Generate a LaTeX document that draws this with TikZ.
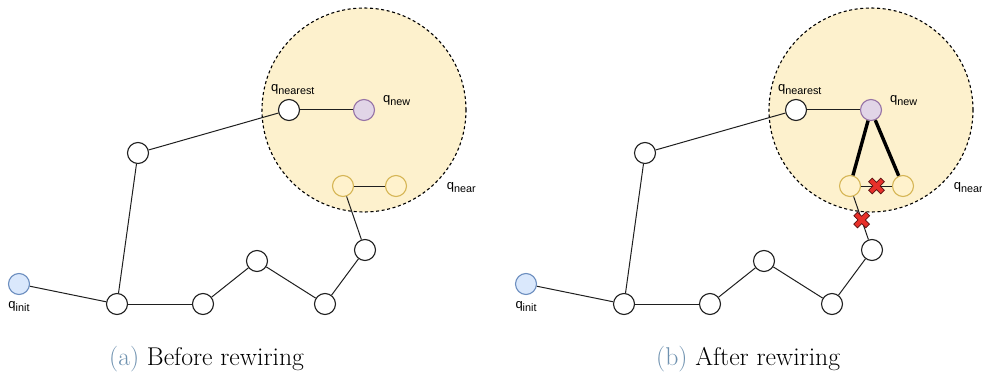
\documentclass[tikz,border=0pt]{standalone}
\usepackage{fontspec}
\newfontfamily\labelfont{Liberation Sans}
\usetikzlibrary{calc}

\definecolor{edgegray}{HTML}{1F1F1F}
\definecolor{initfill}{HTML}{DAE8FC}
\definecolor{initdraw}{HTML}{6C8EBF}
\definecolor{newfill}{HTML}{E1D5E7}
\definecolor{newdraw}{HTML}{9673A6}
\definecolor{nearfill}{HTML}{FFF2CC}
\definecolor{neardraw}{HTML}{D6B656}
\definecolor{regionfill}{HTML}{FDF1CD}
\definecolor{crossred}{HTML}{E8302A}
\definecolor{crossdark}{HTML}{5A1010}
\definecolor{capblue}{HTML}{6E91AF}

% q with a subscript, as in the node labels
\newcommand{\qsub}[1]{q\raisebox{-3.2pt}{\fontsize{10.8pt}{12pt}\selectfont #1}}

\tikzset{
  vtx/.style={circle, draw=edgegray, fill=white, line width=1.1pt,
              minimum size=21pt, inner sep=0pt},
  initv/.style={vtx, draw=initdraw, fill=initfill},
  newv/.style={vtx, draw=newdraw, fill=newfill},
  nearv/.style={vtx, draw=neardraw, fill=nearfill},
  edge/.style={draw=edgegray, line width=1pt},
  rewire/.style={draw=black, line width=3.4pt},
  region/.style={draw=black, fill=regionfill, dashed, dash pattern=on 3pt off 2.6pt,
                 line width=1.1pt},
  lbl/.style={anchor=base west, inner sep=0pt,
              font=\labelfont\fontsize{13pt}{15pt}\selectfont},
  caption/.style={anchor=base west, inner sep=0pt,
                  font=\fontsize{25.7pt}{30pt}\selectfont},
  redx/.pic={
    \fill[crossred, draw=crossdark, line width=0.7pt, rotate=45]
      (8.5,2.6) -- (2.6,2.6) -- (2.6,8.5) -- (-2.6,8.5) -- (-2.6,2.6)
      -- (-8.5,2.6) -- (-8.5,-2.6) -- (-2.6,-2.6) -- (-2.6,-8.5)
      -- (2.6,-8.5) -- (2.6,-2.6) -- (8.5,-2.6) -- cycle;
  }
}

% The tree with its neighbourhood region; #1 prefixes the node names
\newcommand{\rrtgraph}[1]{
  \draw[region] (364pt,-110pt) circle[radius=102pt];
  \node[initv]  (#1init)    at (19,284)  {};
  \node[vtx]    (#1a)       at (117,304) {};
  \node[vtx]    (#1b)       at (138,153) {};
  \node[vtx]    (#1nearest) at (289,110) {};
  \node[newv]   (#1new)     at (364,110) {};
  \node[nearv]  (#1nearA)   at (343,186) {};
  \node[nearv]  (#1nearB)   at (396,186) {};
  \node[vtx]    (#1c)       at (365,250) {};
  \node[vtx]    (#1d)       at (325,304) {};
  \node[vtx]    (#1e)       at (257,261) {};
  \node[vtx]    (#1f)       at (203,304) {};
  \draw[edge] (#1init) -- (#1a);
  \draw[edge] (#1a) -- (#1b);
  \draw[edge] (#1b) -- (#1nearest);
  \draw[edge] (#1nearest) -- (#1new);
  \draw[edge] (#1a) -- (#1f);
  \draw[edge] (#1f) -- (#1e);
  \draw[edge] (#1e) -- (#1d);
  \draw[edge] (#1d) -- (#1c);
  \draw[edge] (#1c) -- (#1nearA);
  \draw[edge] (#1nearA) -- (#1nearB);
  \node[lbl] (#1lnearest) at (271,91.7)  {\qsub{nearest}};
  \node[lbl] (#1lnew)     at (383,102.7) {\qsub{new}};
  \node[lbl] (#1lnear)    at (446.7,189.4) {\qsub{near}};
  \node[lbl] (#1linit)    at (8.3,308.4) {\qsub{init}};
}

\begin{document}
\begin{tikzpicture}[x=1pt, y=-1pt]
  \useasboundingbox (0,0) rectangle (982,377);

  % (a) before rewiring
  \rrtgraph{L}
  \node[caption] (capA) at (109,365) {\textcolor{capblue}{(a)} Before rewiring};

  % (b) after rewiring
  \begin{scope}[shift={(507,0)}]
    \rrtgraph{R}
    \draw[rewire] (Rnew) -- (RnearA);
    \draw[rewire] (Rnew) -- (RnearB);
    \coordinate (cutA) at ($(RnearA)!0.5!(RnearB)$);
    \coordinate (cutB) at ($(RnearA)!0.53!(Rc)$);
    \pic at (cutA) {redx};
    \pic at (cutB) {redx};
  \end{scope}
  \node[caption] (capB) at (656,365) {\textcolor{capblue}{(b)} After rewiring};
\end{tikzpicture}
\end{document}
